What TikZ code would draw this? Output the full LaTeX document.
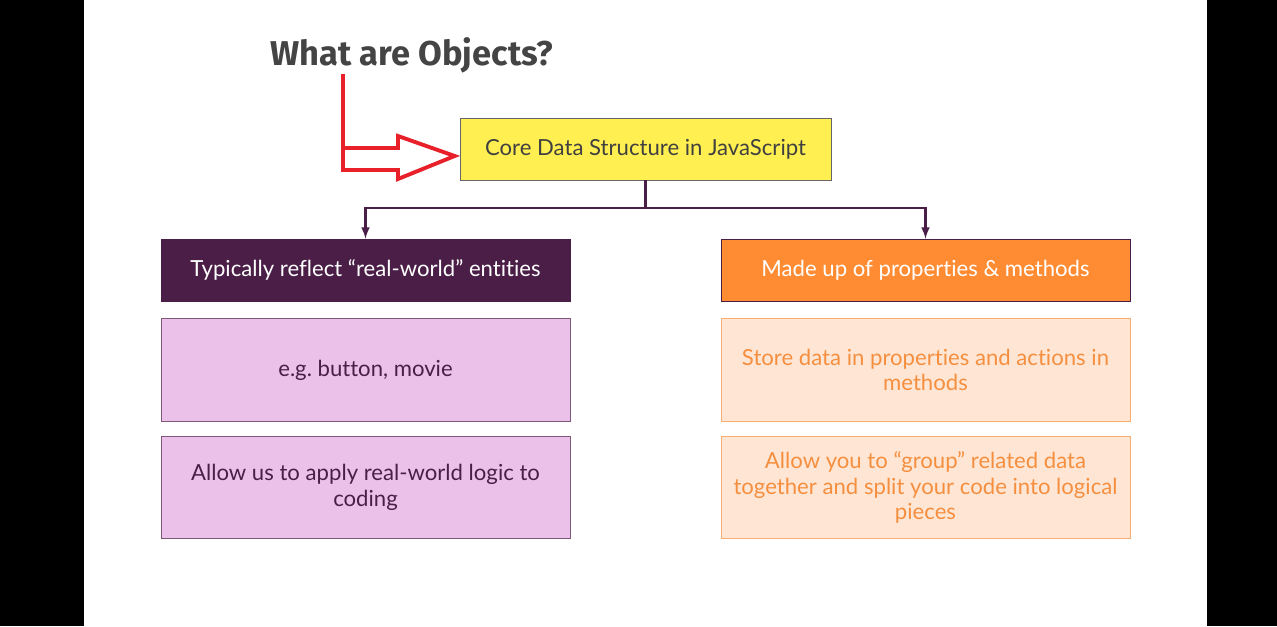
\documentclass[tikz,border=0pt]{standalone}
\usepackage{fontspec}
\setmainfont{Lato}[Ligatures=NoCommon]
\newfontfamily\titlefont{Fira Sans}
\usepackage{tikz}
\usetikzlibrary{calc}
\usetikzlibrary{arrows}
\definecolor{plum}{HTML}{4A1E47}
\definecolor{pinkfill}{HTML}{EBC1EA}
\definecolor{pinkline}{HTML}{7D5879}
\definecolor{corefill}{HTML}{FFEF50}
\definecolor{orangefill}{HTML}{FF8C33}
\definecolor{peachfill}{HTML}{FFE6D4}
\definecolor{peachline}{HTML}{F8AE6E}
\definecolor{peachtext}{HTML}{F58F3F}
\definecolor{arrowred}{HTML}{E8202A}
\definecolor{titlegray}{HTML}{444444}
\begin{document}
\begin{tikzpicture}[x=0.02cm,y=-0.02cm]
        \tikzset{box/.style={draw,minimum width=8.18cm,inner sep=0pt,align=center,font=\fontsize{12.6}{14.7}\selectfont},
        head/.style={box,minimum height=1.24cm},
        cell/.style={box,minimum height=2.05cm}}
        
        \fill[black] (0,0) rectangle (1277,626);
        \fill[white] (84,0) rectangle (1207,626);
        \useasboundingbox (0,0) rectangle (1277,626);
        
        \node[anchor=base west,text=titlegray,font=\titlefont\bfseries\fontsize{19.6}{22}\selectfont,inner sep=0pt] (title) at (270,65) {What are Objects?};
        
        \node[box,fill=corefill,draw=gray!80!black,minimum width=7.42cm,minimum height=1.24cm,text=black!75] (core) at (645.5,149) {Core Data Structure in JavaScript};
        
        %left column
        \node[head,fill=plum,draw=plum,text=white] (typ) at (365.5,270) {Typically reflect ``real-world'' entities};
        \node[cell,fill=pinkfill,draw=pinkline,text=plum] (eg) at (365.5,370) {e.g.\ button, movie};
        \node[cell,fill=pinkfill,draw=pinkline,text=plum] (logic) at (365.5,487.5) {Allow us to apply real-world logic to\\coding};
        
        %right column
        \node[head,fill=orangefill,draw=plum,text=white] (made) at (925.5,270) {Made up of properties \& methods};
        \node[cell,fill=peachfill,draw=peachline,text=peachtext] (store) at (925.5,370) {Store data in properties and actions in\\methods};
        \node[cell,fill=peachfill,draw=peachline,text=peachtext] (group) at (925.5,487.5) {Allow you to ``group'' related data\\together and split your code into logical\\pieces};
        
        %connectors
        \coordinate (split) at ($(core.south)+(0,28)$);
        \draw[plum,line width=1.2pt] (core.south) -- (split);
        \draw[plum,line width=1.2pt,-latex] (split) -| (typ.north);
        \draw[plum,line width=1.2pt,-latex] (split) -| (made.north);
        
        %red pointer
        \coordinate (r_top) at (343,74);
        \coordinate (r_base) at (343,170);
        \coordinate (r_tip) at ($(core.west)+(-5,7)$);
        \draw[arrowred,line width=2.2pt,line join=miter] (r_top) -- (r_base) -- ++(55,0) -- ++(0,9) -- (r_tip) -- (398,136) -- (398,148) -- (343,148);
\end{tikzpicture}
\end{document}
